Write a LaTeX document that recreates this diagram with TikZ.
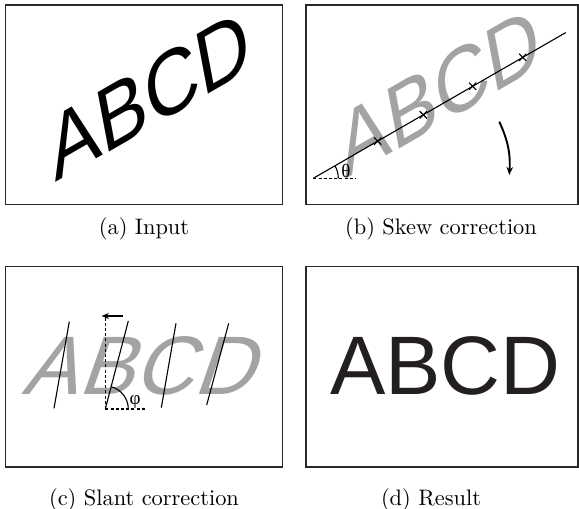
\documentclass[tikz,border=0pt]{standalone}
\usepackage{fontspec}
\newfontfamily\arial{Liberation Sans}
\newfontfamily\greekserif{Liberation Serif}
\usetikzlibrary{arrows.meta}
\definecolor{ghost}{RGB}{163,163,166}
\definecolor{ink}{RGB}{35,31,32}
\definecolor{frame}{RGB}{40,40,40}
\tikzset{
  panel/.style={draw=frame, line width=1.3pt},
  word/.style={transform shape, anchor=base west, inner sep=0pt, font=\arial\fontsize{83}{83}\selectfont},
  guide/.style={line width=1.1pt},
  refline/.style={line width=1.1pt, dash pattern=on 3pt off 2.2pt},
  caption/.style={font=\fontsize{10}{12}\selectfont, inner sep=0pt, scale=2.24, transform shape},
  xmark/.style={line width=1.1pt},
  sym/.style={font=\greekserif\fontsize{19}{19}\selectfont, inner sep=0pt}
}
\begin{document}
\begin{tikzpicture}[x=1pt, y=1pt]
\useasboundingbox (0,0) rectangle (579,509);

% frames
\draw[panel] (5.5,304.5) rectangle (282.5,504);
\draw[panel] (306,304.5) rectangle (578,504);
\draw[panel] (5.5,42) rectangle (282.5,242.3);
\draw[panel] (306,42) rectangle (578,242.3);

% (a) rotated, slanted input word
\begin{scope}[shift={(55,326)}, rotate=30, xslant=0.35]
  \node[word, text=black] (wa) at (0,0) {ABCD};
\end{scope}

% (b) the same word in grey with its baseline estimate
\begin{scope}[shift={(345,329)}, rotate=30, xslant=0.35]
  \node[word, text=ghost] (wb) at (0,0) {ABCD};
\end{scope}
\coordinate (bo) at (313.3,330.7);
\coordinate (be) at (565.7,476.4);
\coordinate (bh) at (355,330.7);
\draw[guide] (bo) -- (be);
\draw[refline] (bo) -- (bh);
\draw[guide] ([shift={(0:25)}]bo) arc[start angle=0, end angle=30, radius=25];
\node[sym] (theta) at (346,338) {θ};
\foreach \px [count=\i] in {377.7,423.3,472.7,522.7}{
  \coordinate (x\i) at (\px, {330.7+(\px-313.3)*0.57735});
  \draw[xmark] ([shift={(-3.6,-3.6)}]x\i) -- ([shift={(3.6,3.6)}]x\i)
               ([shift={(-3.6,3.6)}]x\i) -- ([shift={(3.6,-3.6)}]x\i);
}
\coordinate (ra) at (499.3,387.3);
\coordinate (rb) at (509.3,334);
\draw[line width=1.9pt, -{Stealth[length=8pt, width=6.5pt, inset=2.5pt]}] (ra) to[bend left=14] (rb);

% (c) deskewed word with slant estimates
\begin{scope}[shift={(21.7,114.7)}, xslant=0.35]
  \node[word, text=ghost] (wc) at (0,0) {ABCD};
\end{scope}
\coordinate (s1a) at (54,100.7);   \coordinate (s1b) at (69.3,187.3);
\coordinate (s2a) at (105.3,100);  \coordinate (s2b) at (128.3,188);
\coordinate (s3a) at (161.3,101.3);\coordinate (s3b) at (176,185.7);
\coordinate (s4a) at (206.7,104);  \coordinate (s4b) at (228.7,185.7);
\draw[guide] (s1a) -- (s1b);
\draw[guide] (s2a) -- (s2b);
\draw[guide] (s3a) -- (s3b);
\draw[guide] (s4a) -- (s4b);
\coordinate (vt) at (105.3,190.7);
\coordinate (hr) at (146.7,100);
\draw[refline] (s2a) -- (vt);
\draw[refline] (s2a) -- (hr);
\draw[guide] ([shift={(0:23)}]s2a) arc[start angle=0, end angle=75.3, radius=23];
\node[sym] (phi) at (135,107.3) {φ};
\coordinate (aa) at (123.3,193);
\coordinate (ab) at (101.7,193);
\draw[line width=2.6pt, -{Stealth[length=7pt, width=6pt, inset=2pt]}] (aa) -- (ab);

% (d) normalised result
\node[word, text=ink] (wd) at (330,114) {ABCD};

% captions
\node[caption] (ca) at (144,280) {(a) Input};
\node[caption] (cb) at (441,280) {(b) Skew correction};
\node[caption] (cc) at (144,9) {(c) Slant correction};
\node[caption] (cd) at (431,9) {(d) Result};
\end{tikzpicture}
\end{document}
